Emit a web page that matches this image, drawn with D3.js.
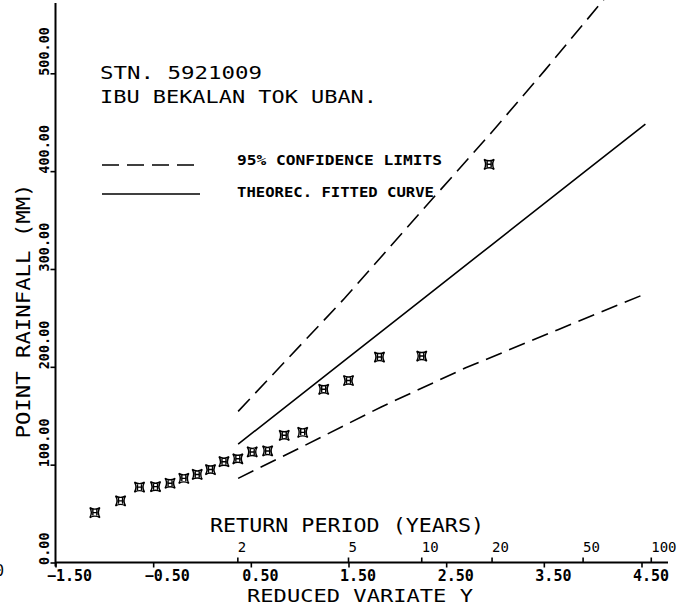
<!DOCTYPE html>
<html><head><meta charset="utf-8">
<script src="https://cdn.jsdelivr.net/npm/d3@7"></script>
<style>body{margin:0;background:#fff}svg{display:block;background:#fff}text{font-family:"DejaVu Sans Mono",monospace;fill:#000}</style>
</head><body><svg id="c" width="692" height="606"></svg>
<script>
// observed annual maxima (reduced variate, rainfall mm)
const obsX = [-1.097,-0.834,-0.640,-0.476,-0.327,-0.186,-0.049,0.087,0.225,0.367,0.514,0.672,0.842,1.031,1.246,1.500,1.817,2.250,2.940];
const obsY = [51,63,77,77.5,81,86,90,95,103,106,113,114,130,133,177,186,210,211,407];
// theoretical fitted curve
const fitX = [0.37,1.5,2.25,2.97,3.9,4.54];
const fitY = [121,209.6,268.5,325,398,448];
// 95% confidence limits
const upX = [0.37,1.46,2.38,2.96,3.51,4.11,4.54];
const upY = [154.5,270,374,439,503,575,627];
const loX = [0.37,1.0,1.835,2.7,3.645,4.55];
const loY = [86,117,159,199,238,275];
// axes
const xTicks = [-1.5,-0.5,0.5,1.5,2.5,3.5,4.5];
const yTicks = [0,100,200,300,400,500];
const rpLabels = ["2","5","10","20","50","100"];
const rpPos = [0.367,1.5,2.25,2.97,3.902,4.6];

const svg = d3.select("#c");
const x = d3.scaleLinear().domain([-1.5,4.5]).range([55.5,641.5]);
const y = d3.scaleLinear().domain([0,500]).range([562.5,73.3]);
const ink = "#000";
const FONT = "'DejaVu Sans Mono',monospace";

// axis lines
svg.append("line").attr("x1",x(-1.5)).attr("x2",668).attr("y1",y(0)).attr("y2",y(0)).attr("stroke",ink).attr("stroke-width",2);
svg.append("line").attr("x1",x(-1.5)).attr("x2",x(-1.5)).attr("y1",y(0)+4).attr("y2",3).attr("stroke",ink).attr("stroke-width",2);

// x axis (reduced variate)
const gx = svg.append("g").attr("transform",`translate(0,${y(0)})`)
  .call(d3.axisBottom(x).tickValues(xTicks).tickSizeInner(5).tickSizeOuter(0).tickFormat(d3.format(".2f")));
gx.select(".domain").remove();
gx.selectAll("line").attr("stroke",ink).attr("stroke-width",1.6);
gx.selectAll("text").attr("x",-9).attr("y",18.5).attr("dy",null).attr("text-anchor","start")
  .style("font-size","15px").style("font-weight","bold").style("font-family",FONT).attr("fill",ink);

// return period ticks
const rpScale = d3.scaleOrdinal().domain(rpLabels).range(rpPos.map(v=>x(v)));
const rpAxis = d3.axisTop(d3.scalePoint().domain(rpLabels).range([0,1]))
  .tickValues(rpLabels).tickSizeInner(5).tickSizeOuter(0);
const gr = svg.append("g").attr("transform",`translate(0,${y(0)})`).call(rpAxis);
gr.select(".domain").remove();
gr.selectAll(".tick").attr("transform",d=>`translate(${rpScale(d)},0)`);
gr.selectAll("line").attr("stroke",ink).attr("stroke-width",1.6);
gr.selectAll("text").attr("x",0).attr("y",-11).attr("dy",null).attr("text-anchor","start")
  .style("font-size","14px").style("font-family",FONT).attr("fill",ink);

// y axis
const gy = svg.append("g").attr("transform",`translate(${x(-1.5)},0)`)
  .call(d3.axisLeft(y).tickValues(yTicks).tickSizeInner(5).tickSizeOuter(0).tickFormat(d3.format(".2f")));
gy.select(".domain").remove();
gy.selectAll("line").attr("stroke",ink).attr("stroke-width",1.6);
gy.selectAll("text").attr("x",null).attr("dy",null).attr("text-anchor","start")
  .attr("transform","translate(-7,2) rotate(-90)")
  .style("font-size","13.5px").style("font-weight","bold").style("font-family",FONT).attr("fill",ink);

// axis titles
svg.append("text").attr("transform","translate(30,311) rotate(-90)").attr("text-anchor","middle")
  .attr("textLength",255).attr("lengthAdjust","spacingAndGlyphs").style("font-size","20px").text("POINT RAINFALL (MM)");
svg.append("text").attr("x",210).attr("y",531.5).attr("textLength",274).attr("lengthAdjust","spacingAndGlyphs")
  .style("font-size","20px").text("RETURN PERIOD (YEARS)");
svg.append("text").attr("x",247).attr("y",602).attr("textLength",226).attr("lengthAdjust","spacingAndGlyphs")
  .style("font-size","18.5px").text("REDUCED VARIATE Y");
svg.append("text").attr("x",-5).attr("y",576).style("font-size","15px").text("0");

// titles
svg.append("text").attr("x",100).attr("y",78.5).attr("textLength",162).attr("lengthAdjust","spacingAndGlyphs")
  .style("font-size","17px").text("STN. 5921009");
svg.append("text").attr("x",100).attr("y",103).attr("textLength",277).attr("lengthAdjust","spacingAndGlyphs")
  .style("font-size","17px").text("IBU BEKALAN TOK UBAN.");

// legend
svg.append("line").attr("x1",102).attr("x2",200).attr("y1",165).attr("y2",165).attr("stroke",ink).attr("stroke-width",1.5).attr("stroke-dasharray","17,8");
svg.append("line").attr("x1",102).attr("x2",200).attr("y1",194).attr("y2",194).attr("stroke",ink).attr("stroke-width",1.5);
svg.append("text").attr("x",237).attr("y",165).attr("textLength",205).attr("lengthAdjust","spacingAndGlyphs")
  .style("font-size","14px").style("font-weight","bold").text("95% CONFIDENCE LIMITS");
svg.append("text").attr("x",237).attr("y",196.5).attr("textLength",197).attr("lengthAdjust","spacingAndGlyphs")
  .style("font-size","14px").style("font-weight","bold").text("THEOREC. FITTED CURVE");

// curves
const line = d3.line().x(d=>x(d[0])).y(d=>y(d[1]));
svg.append("path").datum(d3.zip(fitX,fitY)).attr("d",line).attr("fill","none").attr("stroke",ink).attr("stroke-width",1.6);
svg.append("path").datum(d3.zip(upX,upY)).attr("d",line).attr("fill","none").attr("stroke",ink).attr("stroke-width",1.6).attr("stroke-dasharray","17,8");
svg.append("path").datum(d3.zip(loX,loY)).attr("d",line).attr("fill","none").attr("stroke",ink).attr("stroke-width",1.6).attr("stroke-dasharray","17,8");

// observed points
const mark = "M-5,-5Q0,-2 5,-5Q2,0 5,5Q0,2 -5,5Q-2,0 -5,-5ZM-2,-3V3M2,-3V3M-2,0H2";
svg.append("g").selectAll("path").data(d3.zip(obsX,obsY)).join("path")
  .attr("transform",d=>`translate(${x(d[0])},${y(d[1])})`).attr("d",mark)
  .attr("fill","none").attr("stroke",ink).attr("stroke-width",1.4);
</script></body></html>
